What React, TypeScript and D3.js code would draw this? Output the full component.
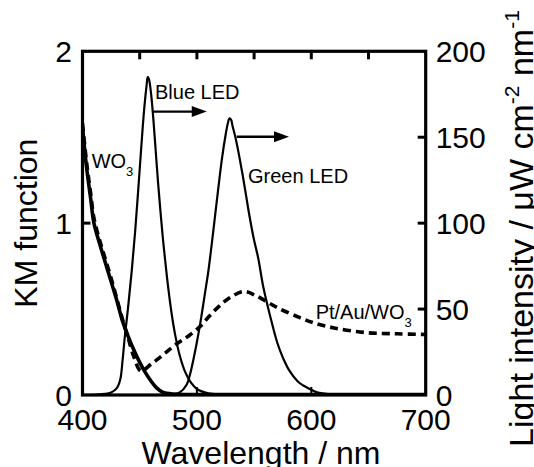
import React from 'react';
import * as d3 from 'd3';

// ---------- data ----------
const xTickValues = [400, 500, 600, 700];
const topTickValues = [450, 500, 550, 600, 650];
const bottomTickValues = [500, 600];
const leftTickValues = [0, 1, 2];
const leftInnerTicks = [1];
const rightTickValues = [0, 50, 100, 150, 200];
const rightInnerTicks = [50, 100, 150];

// WO3 KM function
const wo3Nm = [400, 402, 404, 407, 410, 415, 420, 425, 430, 435, 440, 445, 450, 455, 460, 465, 470, 480, 500, 600, 700];
const wo3KM = [1.56, 1.42, 1.3, 1.15, 1.0, 0.88, 0.77, 0.66, 0.55, 0.43, 0.34, 0.26, 0.19, 0.13, 0.08, 0.04, 0.016, 0.005, 0.003, 0.003, 0.003];

// Pt/Au/WO3 KM function
const ptNm = [400, 402, 404, 407, 410, 415, 420, 425, 430, 435, 440, 445, 451, 460, 468, 477, 485, 493, 503, 511, 520, 529, 541, 552, 570, 590, 602, 620, 648, 675, 700];
const ptKM = [1.58, 1.45, 1.33, 1.18, 1.03, 0.9, 0.79, 0.68, 0.56, 0.44, 0.33, 0.22, 0.14, 0.18, 0.22, 0.27, 0.31, 0.345, 0.4, 0.46, 0.52, 0.567, 0.602, 0.577, 0.509, 0.45, 0.42, 0.39, 0.363, 0.356, 0.352];

// Blue LED light intensity
const blueNm = [400, 415, 425, 430, 433, 435, 437, 440, 443, 446, 449, 452, 454, 456, 457, 458, 460, 462, 464, 466, 468, 470, 472, 475, 478, 481, 485, 490, 495, 500, 510, 520, 540, 700];
const blueI = [0, 0.4, 1.5, 4, 9, 20, 34, 52, 72, 95, 122, 150, 167, 180, 185, 184, 175, 160, 142, 124, 108, 93, 80, 62, 47, 35, 23, 13, 7, 3.5, 1, 0.3, 0, 0];

// Green LED light intensity
const greenNm = [400, 470, 480, 485, 491, 494, 498, 503, 507, 510, 513, 516, 519, 522, 525, 527, 528.5, 530, 531, 534, 537, 540, 543, 546, 550, 553.5, 558, 564, 570, 575, 581, 588, 593, 600, 605, 617, 630, 700];
const greenI = [0, 0, 0.5, 1.5, 6, 12, 24, 42, 59, 72, 88, 105, 122, 138, 151, 158, 161, 160, 157, 149, 139, 128, 116, 104, 90, 80, 63, 46, 31, 22, 14, 8, 5.5, 3, 1.5, 0.3, 0, 0];

const FONT = "'Liberation Sans', Arial, Helvetica, sans-serif";

export default function App() {
  const W = 534;
  const H = 467;
  const left = 82.5, right = 425.7, top = 51.3, bottom = 395;

  const x = d3.scaleLinear().domain([400, 700]).range([left, right]);
  const yL = d3.scaleLinear().domain([0, 2]).range([bottom, top]);
  const yR = d3.scaleLinear().domain([0, 200]).range([bottom, top]);

  const curve = d3.curveCatmullRom.alpha(0.5);
  const lineL = d3.line<[number, number]>().x(d => x(d[0])).y(d => yL(d[1])).curve(curve);
  const lineR = d3.line<[number, number]>().x(d => x(d[0])).y(d => yR(d[1])).curve(curve);

  const wo3 = wo3Nm.map((n, i) => [n, wo3KM[i]] as [number, number]);
  const pt = ptNm.map((n, i) => [n, ptKM[i]] as [number, number]);
  const blue = blueNm.map((n, i) => [n, blueI[i]] as [number, number]);
  const green = greenNm.map((n, i) => [n, greenI[i]] as [number, number]);

  const tick = 8;

  const arrow = (n0: number, n1: number, v: number) => {
    const y0 = yR(v);
    const x0 = x(n0), x1 = x(n1);
    return (
      <g>
        <line x1={x0} y1={y0} x2={x1 - 12} y2={y0} stroke="#000" strokeWidth={2.4} />
        <path d={`M${x1},${y0} L${x1 - 15},${y0 - 5.5} L${x1 - 15},${y0 + 5.5} Z`} fill="#000" />
      </g>
    );
  };

  return (
    <svg width={W} height={H} style={{ position: 'absolute', left: 0, top: 0, background: '#fff' }} fontFamily={FONT}>
      <defs>
        <clipPath id="plotClip">
          <rect x={left} y={top - 2} width={right - left} height={bottom - top + 2} />
        </clipPath>
      </defs>

      <g clipPath="url(#plotClip)" fill="none" stroke="#000">
        <path d={lineL(pt) || ''} strokeWidth={3.6} strokeDasharray="8,5" />
        <path d={lineL(wo3) || ''} strokeWidth={3.6} />
        <path d={lineR(blue) || ''} strokeWidth={2.2} />
        <path d={lineR(green) || ''} strokeWidth={2.2} />
      </g>

      {/* frame */}
      <rect x={left} y={top} width={right - left} height={bottom - top} fill="none" stroke="#000" strokeWidth={3.2} />

      {/* ticks */}
      {topTickValues.map(v => (
        <line key={'t' + v} x1={x(v)} x2={x(v)} y1={top} y2={top + tick} stroke="#000" strokeWidth={3} />
      ))}
      {bottomTickValues.map(v => (
        <line key={'b' + v} x1={x(v)} x2={x(v)} y1={bottom} y2={bottom - tick} stroke="#000" strokeWidth={2} />
      ))}
      {leftInnerTicks.map(v => (
        <line key={'l' + v} x1={left} x2={left + tick} y1={yL(v)} y2={yL(v)} stroke="#000" strokeWidth={3} />
      ))}
      {rightInnerTicks.map(v => (
        <line key={'r' + v} x1={right} x2={right - tick} y1={yR(v)} y2={yR(v)} stroke="#000" strokeWidth={3} />
      ))}

      {/* tick labels */}
      {xTickValues.map(v => (
        <text key={'xl' + v} x={x(v)} y={430} textAnchor="middle" fontSize={30}>{v}</text>
      ))}
      {leftTickValues.map(v => (
        <text key={'yl' + v} x={left - 10.5} y={yL(v)} dy="0.36em" textAnchor="end" fontSize={30}>{v}</text>
      ))}
      {rightTickValues.map(v => (
        <text key={'yr' + v} x={right + 10} y={yR(v)} dy="0.36em" textAnchor="start" fontSize={30}>{v}</text>
      ))}

      {/* axis titles */}
      <text x={261} y={464} textAnchor="middle" fontSize={32}>Wavelength / nm</text>
      <text transform={`translate(36.5,${(top + bottom) / 2}) rotate(-90)`} textAnchor="middle" fontSize={32}>KM function</text>
      <text transform={`translate(533,228.5) rotate(-90)`} textAnchor="middle" fontSize={34}>
        <tspan>Light intensity / μW cm</tspan>
        <tspan fontSize={21} dy={-14}>-2</tspan>
        <tspan dy={14}> nm</tspan>
        <tspan fontSize={21} dy={-14}>-1</tspan>
      </text>

      {/* annotations */}
      <text x={x(463.4)} y={yR(172.3)} fontSize={20}>Blue LED</text>
      {arrow(461.9, 508.6, 164.9)}
      <text x={x(544.7)} y={yR(123.4)} fontSize={20}>Green LED</text>
      {arrow(534.8, 580.5, 150.3)}
      <text x={x(408)} y={yL(1.32)} fontSize={20}>
        <tspan>WO</tspan>
        <tspan fontSize={13} dy={8}>3</tspan>
      </text>
      <text x={x(603.8)} y={yL(0.442)} fontSize={20}>
        <tspan>Pt/Au/WO</tspan>
        <tspan fontSize={13} dy={8}>3</tspan>
      </text>
    </svg>
  );
}
